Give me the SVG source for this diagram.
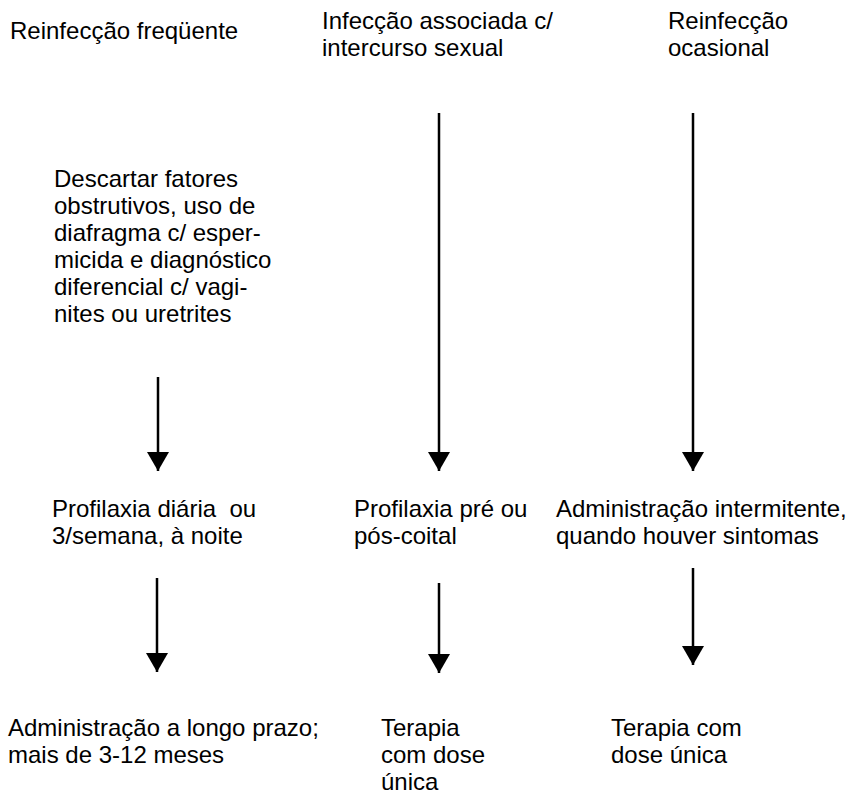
<svg xmlns="http://www.w3.org/2000/svg" width="861" height="793" viewBox="0 0 861 793">
<style>
text{font-family:"Liberation Sans",Arial,sans-serif;font-size:24px;fill:#000}
.c{stroke:#000;stroke-width:2.5;fill:none}
</style>
<defs>
<marker id="ah" viewBox="0 0 19 22" refX="19" refY="11" markerWidth="19" markerHeight="22" markerUnits="userSpaceOnUse" orient="auto">
<path d="M0,0 L19,11 L0,22 Z" fill="#000"/>
</marker>
</defs>
<rect width="861" height="793" fill="#fff"/>
<g id="connectors">
<line class="c" x1="158" y1="377" x2="158" y2="471" marker-end="url(#ah)"/>
<line class="c" x1="439" y1="113" x2="439" y2="471" marker-end="url(#ah)"/>
<line class="c" x1="693" y1="113" x2="693" y2="471" marker-end="url(#ah)"/>
<line class="c" x1="157" y1="578" x2="157" y2="672" marker-end="url(#ah)"/>
<line class="c" x1="439" y1="583" x2="439" y2="673" marker-end="url(#ah)"/>
<line class="c" x1="693" y1="568" x2="693" y2="665" marker-end="url(#ah)"/>
</g>
<g id="n1"><text x="10" y="39">Reinfecção freqüente</text></g>
<g id="n2"><text x="322" y="29">Infecção associada c/</text><text x="322" y="56">intercurso sexual</text></g>
<g id="n3"><text x="668" y="29">Reinfecção</text><text x="668" y="56">ocasional</text></g>
<g id="n4"><text x="54" y="187">Descartar fatores</text><text x="54" y="214">obstrutivos, uso de</text><text x="54" y="241">diafragma c/ esper-</text><text x="54" y="268">micida e diagnóstico</text><text x="54" y="295">diferencial c/ vagi-</text><text x="54" y="322">nites ou uretrites</text></g>
<g id="n5"><text x="52" y="517">Profilaxia diária&#160; ou</text><text x="52" y="544">3/semana, à noite</text></g>
<g id="n6"><text x="354" y="517">Profilaxia pré ou</text><text x="354" y="544">pós-coital</text></g>
<g id="n7"><text x="556" y="517">Administração intermitente,</text><text x="556" y="544">quando houver sintomas</text></g>
<g id="n8"><text x="8" y="736">Administração a longo prazo;</text><text x="8" y="763">mais de 3-12 meses</text></g>
<g id="n9"><text x="381" y="736">Terapia</text><text x="381" y="763">com dose</text><text x="381" y="790">única</text></g>
<g id="n10"><text x="611" y="736">Terapia com</text><text x="611" y="763">dose única</text></g>
</svg>
